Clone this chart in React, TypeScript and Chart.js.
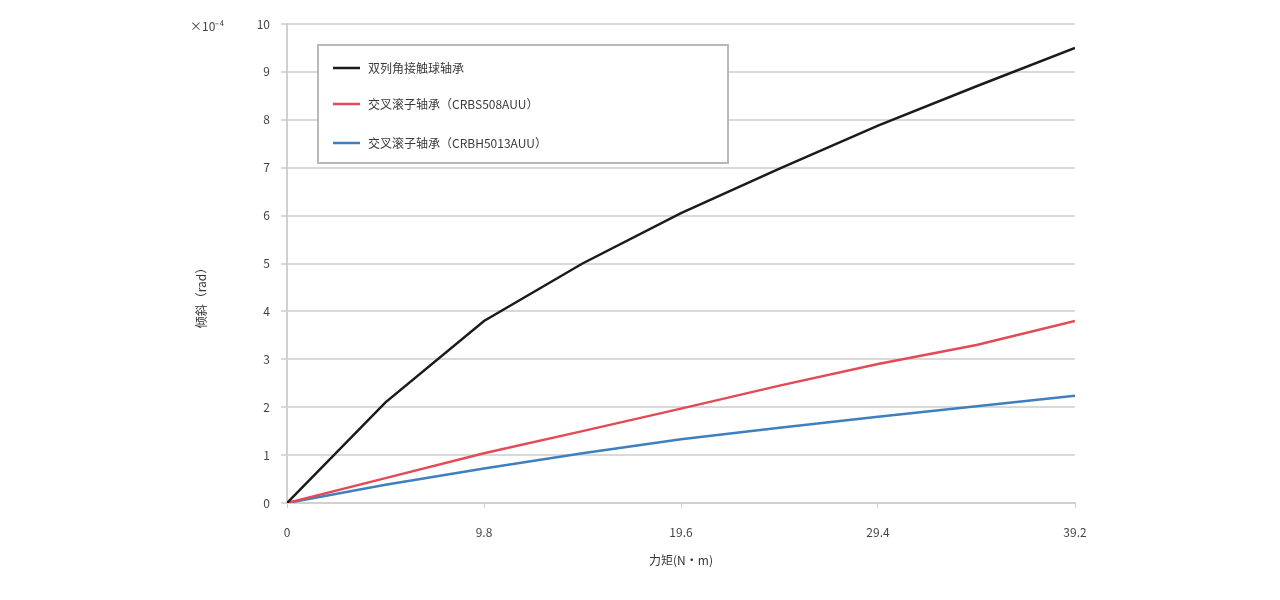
import React, { useEffect, useRef } from "react";
import { Chart, registerables } from "chart.js";

Chart.register(...registerables);

const xValues = [0, 4.9, 9.8, 14.7, 19.6, 24.5, 29.4, 34.3, 39.2];
const xTicks = [0, 9.8, 19.6, 29.4, 39.2];
const seriesNames = [
  "双列角接触球轴承",
  "交叉滚子轴承（CRBS508AUU）",
  "交叉滚子轴承（CRBH5013AUU）",
];
const blackValues = [0, 2.1, 3.8, 5.0, 6.05, 6.98, 7.88, 8.7, 9.5];
const redValues = [0, 0.52, 1.04, 1.5, 1.97, 2.45, 2.9, 3.3, 3.8];
const blueValues = [0, 0.38, 0.72, 1.04, 1.33, 1.57, 1.8, 2.02, 2.24];
const seriesColors = ["#1b1b1b", "#e24a56", "#3f7fbf"];
const yTitle = "倾斜（rad）";
const xTitle = "力矩(N·m)";
const unitLabel = "×10⁻⁴";

const FONT = "'Noto Sans CJK SC', 'Liberation Sans', sans-serif";

export default function App() {
  const ref = useRef<HTMLCanvasElement | null>(null);
  useEffect(() => {
    document.body.style.margin = "0";
    const ctx = ref.current!;
    const mk = (vals: number[]) => xValues.map((x, i) => ({ x, y: vals[i] }));
    const allVals = [blackValues, redValues, blueValues];

    const overlay = {
      id: "overlay",
      afterDraw(chart: any) {
        const c = chart.ctx;
        const a = chart.chartArea;
        c.save();
        // unit label
        c.fillStyle = "#444";
        c.font = `12px ${FONT}`;
        c.textBaseline = "middle";
        c.textAlign = "left";
        c.fillText(unitLabel, 190, 26);
        // y title
        c.save();
        c.translate(201, 295);
        c.rotate(-Math.PI / 2);
        c.textAlign = "center";
        c.fillStyle = "#333";
        c.font = `12px ${FONT}`;
        c.fillText(yTitle, 0, 0);
        c.restore();
        // legend box
        const bx = a.left + 31;
        const by = a.top + 21;
        const bw = 410;
        const bh = 118;
        c.fillStyle = "#ffffff";
        c.fillRect(bx, by, bw, bh);
        c.strokeStyle = "#b8b8b8";
        c.lineWidth = 2;
        c.strokeRect(bx, by, bw, bh);
        const rows = [by + 23, by + 59, by + 98];
        c.font = `12px ${FONT}`;
        c.textAlign = "left";
        seriesNames.forEach((name, i) => {
          c.strokeStyle = seriesColors[i];
          c.lineWidth = 2.5;
          c.beginPath();
          c.moveTo(bx + 15, rows[i]);
          c.lineTo(bx + 42, rows[i]);
          c.stroke();
          c.fillStyle = "#3a3a3a";
          c.fillText(name, bx + 50, rows[i]);
        });
        c.restore();
      },
    };

    const chart = new Chart(ctx, {
      type: "line",
      data: {
        datasets: allVals.map((vals, i) => ({
          label: seriesNames[i],
          data: mk(vals),
          borderColor: seriesColors[i],
          backgroundColor: seriesColors[i],
          borderWidth: 2.5,
          pointRadius: 0,
          tension: 0,
          fill: false,
        })),
      },
      options: {
        animation: false,
        responsive: false,
        maintainAspectRatio: false,
        layout: { padding: { left: 186, right: 205, top: 24, bottom: 32 } },
        plugins: {
          legend: { display: false },
          tooltip: { enabled: false },
        },
        scales: {
          x: {
            type: "linear",
            min: 0,
            max: 39.2,
            afterBuildTicks: (s: any) => {
              s.ticks = xTicks.map((v) => ({ value: v }));
            },
            afterFit: (s: any) => {
              s.height = 65;
            },
            ticks: {
              color: "#444",
              font: { family: FONT, size: 12 },
              padding: 17,
              maxRotation: 0,
              callback: (v: any) => String(v),
            },
            grid: {
              drawOnChartArea: false,
              color: "#d0d0d0",
              tickLength: 5,
            },
            border: { color: "#d0d0d0", width: 2 },
            title: {
              display: true,
              text: xTitle,
              color: "#333",
              font: { family: FONT, size: 12 },
              padding: { top: 0, bottom: 0 },
            },
          },
          y: {
            type: "linear",
            min: 0,
            max: 10,
            afterFit: (s: any) => {
              s.width = 101;
            },
            ticks: {
              stepSize: 1,
              color: "#444",
              font: { family: FONT, size: 12 },
              padding: 11,
            },
            grid: {
              color: "#d9d9d9",
              lineWidth: 2,
              tickLength: 6,
            },
            border: { color: "#d0d0d0", width: 2 },
            title: { display: false },
          },
        },
      },
      plugins: [overlay],
    });
    return () => chart.destroy();
  }, []);
  return (
    <div style={{ position: "absolute", left: 0, top: 0, width: 1280, height: 600, background: "#fff" }}>
      <canvas ref={ref} width={1280} height={600} style={{ width: 1280, height: 600 }} />
    </div>
  );
}
